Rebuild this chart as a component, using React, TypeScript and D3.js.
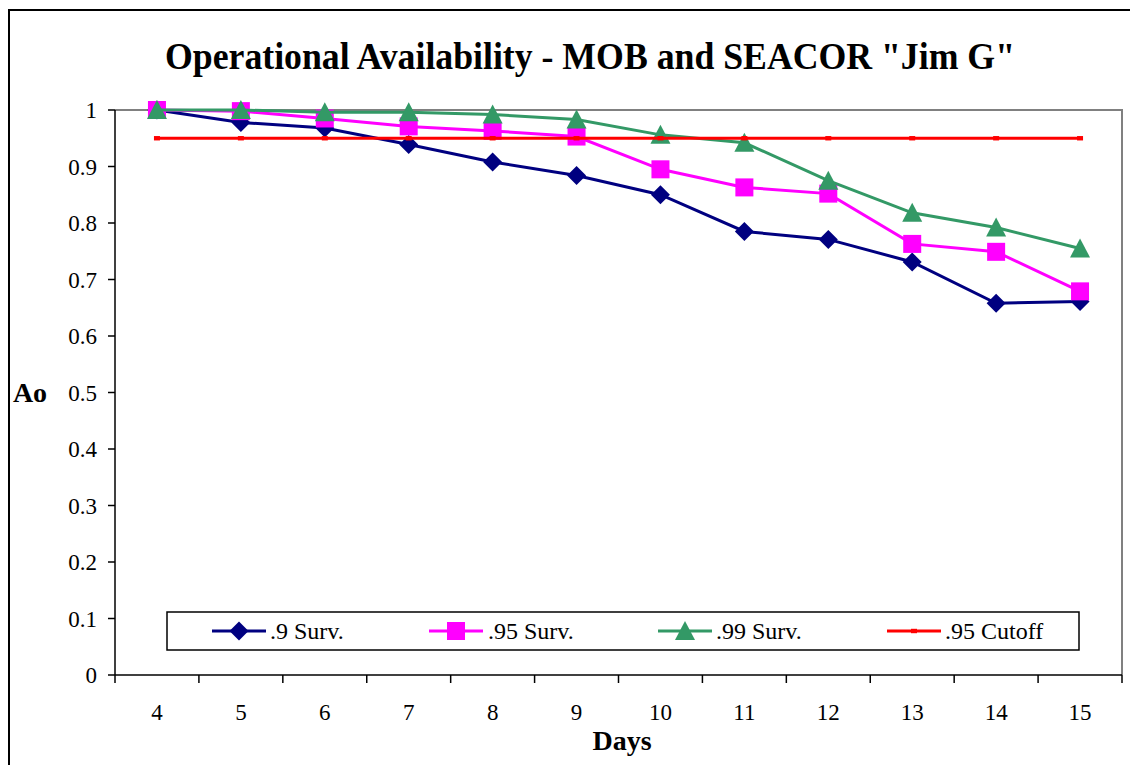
import React from "react";
import * as d3 from "d3";

const days = [4, 5, 6, 7, 8, 9, 10, 11, 12, 13, 14, 15];
const surv90 = [1.0, 0.978, 0.968, 0.939, 0.908, 0.884, 0.85, 0.785, 0.771, 0.731, 0.658, 0.661];
const surv95 = [1.0, 0.998, 0.985, 0.971, 0.963, 0.953, 0.895, 0.863, 0.852, 0.763, 0.749, 0.679];
const surv99 = [1.0, 1.0, 0.996, 0.996, 0.992, 0.983, 0.956, 0.942, 0.875, 0.818, 0.792, 0.755];
const cutoff = [0.95, 0.95, 0.95, 0.95, 0.95, 0.95, 0.95, 0.95, 0.95, 0.95, 0.95, 0.95];
const yTicks = [0, 0.1, 0.2, 0.3, 0.4, 0.5, 0.6, 0.7, 0.8, 0.9, 1];

const seriesNames = [".9 Surv.", ".95 Surv.", ".99 Surv.", ".95 Cutoff"];
const seriesColors = ["#000080", "#FF00FF", "#339966", "#FF0000"];
const seriesShapes = ["diamond", "square", "triangle", "dash"];

const W = 1130, H = 765;
const L = 115, R = 1122, T = 110, B = 675;
const FONT = "'Liberation Serif', 'Times New Roman', serif";

function Marker({ shape, color, x, y }: { shape: string; color: string; x: number; y: number }) {
  if (shape === "diamond") {
    const s = 9.5;
    return <path d={`M${x},${y - s}L${x + s},${y}L${x},${y + s}L${x - s},${y}Z`} fill={color} />;
  }
  if (shape === "square") {
    const s = 9;
    return <rect x={x - s} y={y - s} width={2 * s} height={2 * s} fill={color} />;
  }
  if (shape === "triangle") {
    return <path d={`M${x},${y - 10}L${x + 10},${y + 9}L${x - 10},${y + 9}Z`} fill={color} />;
  }
  return <rect x={x - 3} y={y - 2.2} width={6} height={4.4} fill={color} />;
}

export default function App() {
  const x = d3.scaleBand<number>().domain(days).range([L, R]);
  const y = d3.scaleLinear().domain([0, 1]).range([B, T]);
  const cx = (d: number) => (x(d) as number) + x.bandwidth() / 2;
  const all = [surv90, surv95, surv99, cutoff];
  const line = d3
    .line<number>()
    .x((_, i) => cx(days[i]))
    .y((v) => y(v));

  const legendItems = [
    { lx: 212, tx: 270 },
    { lx: 429, tx: 488 },
    { lx: 658, tx: 716 },
    { lx: 887, tx: 945 },
  ];

  return (
    <svg width={W} height={H} style={{ position: "absolute", left: 0, top: 0, background: "#fff" }} fontFamily={FONT}>
      <rect x={0} y={0} width={W} height={H} fill="#fff" />
      <rect x={9} y={10} width={W + 20} height={H + 20} fill="none" stroke="#000" strokeWidth={2} />
      <text x={165} y={69} fontSize={38} fontWeight="bold" fill="#000" textLength={850} lengthAdjust="spacingAndGlyphs">
        Operational Availability - MOB and SEACOR "Jim G"
      </text>

      {/* plot frame */}
      <path d={`M${L},${T}H${R}V${B}`} fill="none" stroke="#808080" strokeWidth={2} />
      <line x1={L} y1={T} x2={L} y2={B} stroke="#000" strokeWidth={1.5} />
      <line x1={L} y1={B} x2={R} y2={B} stroke="#000" strokeWidth={1.5} />

      {yTicks.map((t) => (
        <g key={t}>
          <line x1={L - 7} x2={L} y1={y(t)} y2={y(t)} stroke="#000" strokeWidth={1.5} />
          <text x={97} y={y(t)} dy="0.35em" textAnchor="end" fontSize={23} fill="#000">
            {String(t)}
          </text>
        </g>
      ))}
      {[...days.map((d) => x(d) as number), R].map((px, i) => (
        <line key={i} x1={px} x2={px} y1={B} y2={B + 8} stroke="#000" strokeWidth={1.5} />
      ))}
      {days.map((d) => (
        <text key={d} x={cx(d)} y={720} textAnchor="middle" fontSize={23} fill="#000">
          {d}
        </text>
      ))}
      <text x={622} y={750} textAnchor="middle" fontSize={28} fontWeight="bold" fill="#000">
        Days
      </text>
      <text x={30} y={392} dy="0.35em" textAnchor="middle" fontSize={28} fontWeight="bold" fill="#000">
        Ao
      </text>

      {all.map((s, si) => (
        <g key={si}>
          <path d={line(s) || ""} fill="none" stroke={seriesColors[si]} strokeWidth={3} />
          {s.map((v, i) => (
            <Marker key={i} shape={seriesShapes[si]} color={seriesColors[si]} x={cx(days[i])} y={y(v)} />
          ))}
        </g>
      ))}

      {/* legend */}
      <rect x={167} y={612} width={912} height={38} fill="#fff" stroke="#000" strokeWidth={1.5} />
      {legendItems.map((it, i) => (
        <g key={i}>
          <line x1={it.lx} x2={it.lx + 54} y1={631} y2={631} stroke={seriesColors[i]} strokeWidth={3} />
          <Marker shape={seriesShapes[i]} color={seriesColors[i]} x={it.lx + 27} y={631} />
          <text x={it.tx} y={631} dy="0.35em" fontSize={24} fill="#000">
            {seriesNames[i]}
          </text>
        </g>
      ))}
    </svg>
  );
}
